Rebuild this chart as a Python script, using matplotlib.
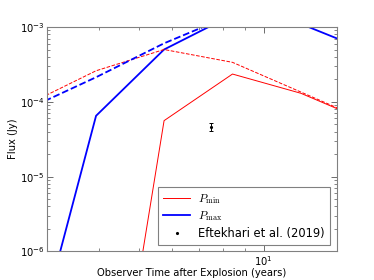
import matplotlib
matplotlib.use('Agg')
import matplotlib.pyplot as plt
from matplotlib.ticker import NullFormatter

# Tiempos de observación (años) y flujos (Jy)
tiempos = [2.69, 3.94, 5.75, 8.41, 12.3, 18.0]

flujo_pmin = [1e-13, 1.4e-10, 5.6e-5, 2.35e-4, 1.3e-4, 5.3e-5]
flujo_pmin_dash = [9.2e-5, 2.6e-4, 5.0e-4, 3.37e-4, 1.35e-4, 5.4e-5]
flujo_pmax = [2.2e-8, 6.5e-5, 5.0e-4, 1.45e-3, 1.1e-3, 4.7e-4]
flujo_pmax_dash = [8.0e-5, 2.13e-4, 6.05e-4, 1.46e-3, 1.6e-3, 1.4e-3]

# Dato observado (Eftekhari et al. 2019)
obs_t = [7.46]
obs_flujo = [4.65e-5]
obs_err = [6e-6]

plt.rcParams['mathtext.fontset'] = 'cm'
plt.rcParams['font.size'] = 7.2

fig = plt.figure(figsize=(3.74, 2.8), dpi=100)
ax = fig.add_axes([0.1257, 0.102, 0.7743, 0.8016])

ax.plot(tiempos, flujo_pmin, color='red', lw=0.7, label=r'$P_{\rm min}$')
ax.plot(tiempos, flujo_pmax, color='blue', lw=1.3, label=r'$P_{\rm max}$')
ax.plot(tiempos, flujo_pmin_dash, color='red', lw=0.7, ls='--')
ax.plot(tiempos, flujo_pmax_dash, color='blue', lw=1.3, ls='--')

ax.errorbar(obs_t, obs_flujo, yerr=obs_err, fmt='none', ecolor='black',
            elinewidth=0.7, capsize=1.5, capthick=0.7)
ax.plot(obs_t, obs_flujo, 'k.', markersize=2.5, label='Eftekhari et al. (2019)')

ax.set_xscale('log')
ax.set_yscale('log')
ax.set_xlim(3, 15)
ax.set_ylim(1e-6, 1e-3)
ax.xaxis.set_minor_formatter(NullFormatter())

ax.set_xlabel('Observer Time after Explosion (years)', labelpad=0)
ax.set_ylabel('Flux (Jy)', labelpad=1)

for s in ax.spines.values():
    s.set_color('#808080')
ax.tick_params(which='both', direction='in', top=True, right=True,
               color='#555555', pad=2)
ax.tick_params(which='major', length=4, width=0.6)
ax.tick_params(which='minor', length=2, width=0.5)

leg = ax.legend(loc='lower right', numpoints=1, fancybox=False, framealpha=1,
                edgecolor='#808080', handlelength=2.4, fontsize=8.3,
                borderaxespad=0.6, labelspacing=0.3, borderpad=0.4,
                handletextpad=0.7)
leg.get_frame().set_linewidth(0.8)

fig.savefig('out.png', dpi=100)
